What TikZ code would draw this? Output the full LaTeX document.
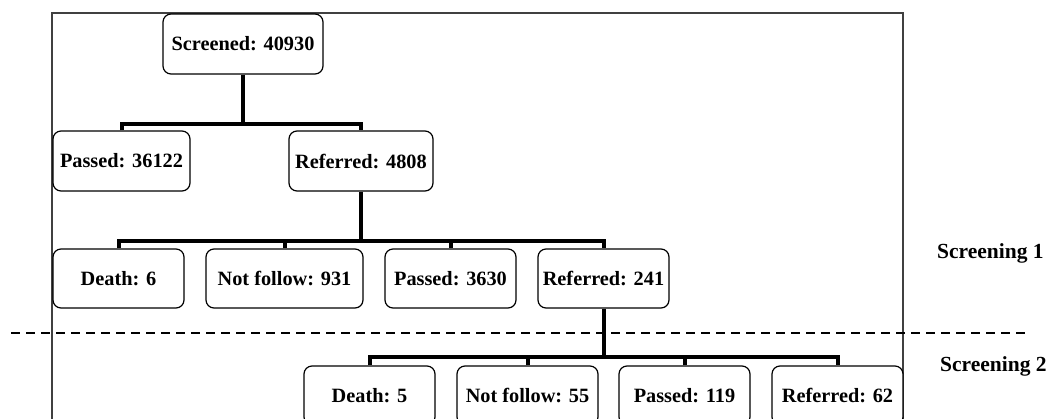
\documentclass[tikz,border=0pt]{standalone}
\usepackage{fontspec}
\setmainfont{Liberation Serif}
\begin{document}
\begin{tikzpicture}[x=1pt,y=-1pt,
  box/.style={draw=black, line width=1.2pt, rounded corners=8pt, fill=white,
    minimum height=60pt, inner sep=0pt, font=\fontsize{20.3}{24}\selectfont\bfseries},
  conn/.style={line width=4pt, line join=miter, line cap=butt},
  lbl/.style={font=\fontsize{21.5}{25}\selectfont\bfseries, anchor=base west, inner sep=0pt}]
\clip (0,0) rectangle (1052,418);
\useasboundingbox (0,0) rectangle (1052,418);
% frame and separator
\draw[black!75, line width=1.4pt] (52,440) -- (52,13) -- (903,13) -- (903,440);
\draw[black, line width=1.3pt, dash pattern=on 9pt off 6pt] (11,333) -- (1030,333);
% nodes
\node[box, minimum width=160pt] (scr) at (243,44) {Screened: 40930};
\node[box, minimum width=137pt] (p1) at (121.5,161) {Passed: 36122};
\node[box, minimum width=144pt] (r1) at (361,161) {Referred: 4808};
\node[box, minimum width=131pt, minimum height=59pt] (d1) at (118.5,278.5) {Death: 6};
\node[box, minimum width=157pt, minimum height=59pt] (nf1) at (284.5,278.5) {Not follow: 931};
\node[box, minimum width=131pt, minimum height=59pt] (ps1) at (450.5,278.5) {Passed: 3630};
\node[box, minimum width=131pt, minimum height=59pt] (rf1) at (603.5,278.5) {Referred: 241};
\node[box, minimum width=131pt, minimum height=59pt] (d2) at (369.5,395.5) {Death: 5};
\node[box, minimum width=141pt, minimum height=59pt] (nf2) at (527.5,395.5) {Not follow: 55};
\node[box, minimum width=131pt, minimum height=59pt] (ps2) at (684.5,395.5) {Passed: 119};
\node[box, minimum width=131pt, minimum height=59pt] (rf2) at (837.5,395.5) {Referred: 62};
% branch points
\coordinate (b1) at (243,124);
\coordinate (b2) at (361,240.5);
\coordinate (b3) at (603.5,357);
% connectors
\draw[conn] (scr.south) -- (b1);
\draw[conn] (p1.north) |- (b1) -| (r1.north);
\draw[conn] (r1.south) -- (b2);
\draw[conn] (d1.north) |- (b2) -| (rf1.north);
\draw[conn] (nf1.north) -- (nf1.north |- b2);
\draw[conn] (ps1.north) -- (ps1.north |- b2);
\draw[conn] (rf1.south) -- (b3);
\draw[conn] (d2.north) |- (b3) -| (rf2.north);
\draw[conn] (nf2.north) -- (nf2.north |- b3);
\draw[conn] (ps2.north) -- (ps2.north |- b3);
% side labels
\node[lbl] (s1) at (937,258) {Screening 1};
\node[lbl] (s2) at (940,371) {Screening 2};
\end{tikzpicture}
\end{document}
